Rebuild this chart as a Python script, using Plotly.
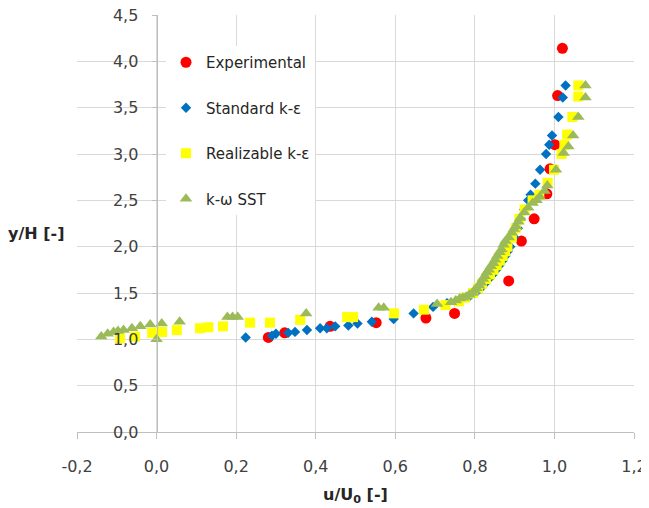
import plotly.graph_objects as go

# ---- data ----
exp_x = [0.281, 0.322, 0.436, 0.552, 0.677, 0.749, 0.885, 0.917, 0.949, 0.981, 0.989, 1.001, 1.008, 1.020]
exp_y = [1.02, 1.07, 1.14, 1.18, 1.23, 1.28, 1.63, 2.06, 2.30, 2.57, 2.84, 3.10, 3.63, 4.14]

ske_x = [0.224, 0.290, 0.300, 0.331, 0.348, 0.378, 0.411, 0.428, 0.449, 0.482, 0.505, 0.541, 0.596, 0.646,
         0.695, 0.730, 0.760, 0.785, 0.800, 0.812, 0.825, 0.835, 0.845, 0.854, 0.862, 0.870, 0.877, 0.883,
         0.889, 0.899, 0.908, 0.915, 0.924, 0.934, 0.940, 0.952, 0.964, 0.979, 0.987, 0.994, 1.010, 1.021, 1.028]
ske_y = [1.02, 1.04, 1.06, 1.07, 1.08, 1.10, 1.12, 1.12, 1.14, 1.15, 1.17, 1.19, 1.22, 1.28,
         1.35, 1.39, 1.42, 1.46, 1.50, 1.54, 1.60, 1.65, 1.70, 1.75, 1.80, 1.85, 1.90, 1.95,
         2.00, 2.10, 2.20, 2.30, 2.40, 2.50, 2.56, 2.68, 2.83, 3.00, 3.10, 3.20, 3.40, 3.61, 3.74]

rke_x = [-0.092, -0.054, -0.011, 0.014, 0.051, 0.109, 0.130, 0.167, 0.235, 0.285, 0.361, 0.479, 0.494,
         0.597, 0.672, 0.726, 0.760, 0.775, 0.795, 0.808, 0.818, 0.828, 0.838, 0.847, 0.855, 0.863, 0.870,
         0.876, 0.882, 0.893, 0.903, 0.912, 0.925, 0.945, 0.962, 0.983, 0.999, 1.018, 1.025, 1.032, 1.045,
         1.060, 1.060]
rke_y = [1.01, 1.03, 1.07, 1.08, 1.10, 1.12, 1.13, 1.14, 1.18, 1.18, 1.21, 1.24, 1.24,
         1.28, 1.32, 1.37, 1.41, 1.45, 1.50, 1.55, 1.60, 1.65, 1.70, 1.75, 1.80, 1.85, 1.90,
         1.95, 2.00, 2.10, 2.20, 2.30, 2.40, 2.50, 2.56, 2.69, 2.83, 3.00, 3.10, 3.21, 3.40,
         3.62, 3.74]

sst_x = [-0.139, -0.123, -0.108, -0.097, -0.083, -0.062, -0.041, -0.016, 0.000, 0.013, 0.058, 0.178, 0.191,
         0.204, 0.376, 0.558, 0.571, 0.705, 0.740, 0.752, 0.762, 0.770, 0.778, 0.786, 0.794, 0.799, 0.804,
         0.810, 0.815, 0.820, 0.825, 0.830, 0.835, 0.840, 0.846, 0.851, 0.856, 0.862, 0.867, 0.872, 0.877,
         0.885, 0.893, 0.898, 0.903, 0.909, 0.914, 0.924, 0.934, 0.945, 0.955, 0.963, 0.975, 0.982, 1.004,
         1.023, 1.035, 1.047, 1.060, 1.078, 1.078]
sst_y = [1.03, 1.06, 1.08, 1.09, 1.10, 1.12, 1.14, 1.16, 1.00, 1.17, 1.19, 1.24, 1.24,
         1.24, 1.28, 1.34, 1.34, 1.38, 1.40, 1.42, 1.44, 1.45, 1.46, 1.48, 1.50, 1.53, 1.55,
         1.58, 1.61, 1.65, 1.68, 1.72, 1.75, 1.79, 1.82, 1.86, 1.90, 1.94, 1.97, 2.02, 2.06,
         2.10, 2.15, 2.19, 2.22, 2.27, 2.31, 2.37, 2.42, 2.47, 2.50, 2.54, 2.60, 2.66, 2.83,
         3.01, 3.08, 3.20, 3.40, 3.61, 3.74]

x_tickvals = [-0.2, 0.0, 0.2, 0.4, 0.6, 0.8, 1.0, 1.2]
x_ticktext = ["-0,2", "0,0", "0,2", "0,4", "0,6", "0,8", "1,0", "1,2"]
y_tickvals = [0.0, 0.5, 1.0, 1.5, 2.0, 2.5, 3.0, 3.5, 4.0, 4.5]
y_ticktext = ["0,0", "0,5", "1,0", "1,5", "2,0", "2,5", "3,0", "3,5", "4,0", "4,5"]

series_names = ["Experimental", "Standard k-ε", "Realizable k-ε", "k-ω SST"]

FONT = "DejaVu Sans"

fig = go.Figure()
fig.add_trace(go.Scatter(x=exp_x, y=exp_y, mode="markers", name=series_names[0], legendgroup="a",
                         marker=dict(symbol="circle", size=11, color="#FF0000")))
fig.add_trace(go.Scatter(x=ske_x, y=ske_y, mode="markers", name=series_names[1], legendgroup="b",
                         marker=dict(symbol="diamond", size=8, color="#0070C0")))
fig.add_trace(go.Scatter(x=rke_x, y=rke_y, mode="markers", name=series_names[2], legendgroup="c",
                         marker=dict(symbol="square", size=10, color="#FFFF00")))
fig.add_trace(go.Scatter(x=sst_x, y=sst_y, mode="markers", name=series_names[3], legendgroup="d",
                         marker=dict(symbol="triangle-up", size=11, color="#9BBB59")))

# page is rendered with an 8px body margin
BODY = 8
W, H = 649 - BODY, 508 - BODY
pw, ph = 557, 417
L = 77 - BODY
T = 15 - BODY
R = W - L - pw
B = H - T - ph
PL, PB = 77, 432  # plot left / bottom in page pixels

fig.update_layout(
    width=W, height=H,
    margin=dict(l=L, r=R, t=T, b=B, autoexpand=False),
    paper_bgcolor="white", plot_bgcolor="white",
    font=dict(family=FONT, size=15, color="#404040"),
    showlegend=True,
    legend=dict(
        x=(166 - PL) / pw, y=(PB - 46) / ph, xanchor="left", yanchor="top",
        bgcolor="white", borderwidth=0,
        font=dict(family=FONT, size=15, color="#262626"),
        tracegroupgap=23,
    ),
    xaxis=dict(
        range=[-0.2, 1.2], tickvals=x_tickvals, ticktext=x_ticktext,
        showgrid=True, gridcolor="#d9d9d9", gridwidth=1,
        zeroline=False, showline=True, linecolor="#bfbfbf", linewidth=1,
        ticks="outside", ticklen=6, tickcolor="#bfbfbf",
        tickfont=dict(family=FONT, size=16, color="#404040"),
        ticklabelstandoff=14, automargin=False, ticklabeloverflow="allow",
        anchor="y",
    ),
    yaxis=dict(
        range=[0, 4.5], tickvals=y_tickvals, ticktext=y_ticktext,
        showgrid=True, gridcolor="#d9d9d9", gridwidth=1,
        zeroline=False, showline=True, linecolor="#bfbfbf", linewidth=1,
        ticks="outside", ticklen=5, tickcolor="#bfbfbf",
        tickfont=dict(family=FONT, size=16, color="#404040"),
        ticklabelstandoff=10, automargin=False, ticklabeloverflow="allow",
        anchor="free", position=0.2 / 1.4,
    ),
    annotations=[
        dict(text="<b>y/H [-]</b>", xref="paper", yref="paper",
             x=(36 - PL) / pw, y=(PB - 233) / ph, xanchor="center", yanchor="middle",
             showarrow=False, font=dict(family=FONT, size=16, color="#262626")),
        dict(text="<b>u/U<sub>0</sub> [-]</b>", xref="paper", yref="paper",
             x=0.5, y=(PB - 495) / ph, xanchor="center", yanchor="middle",
             showarrow=False, font=dict(family=FONT, size=16, color="#262626")),
    ],
)

fig.write_html("out.html")
